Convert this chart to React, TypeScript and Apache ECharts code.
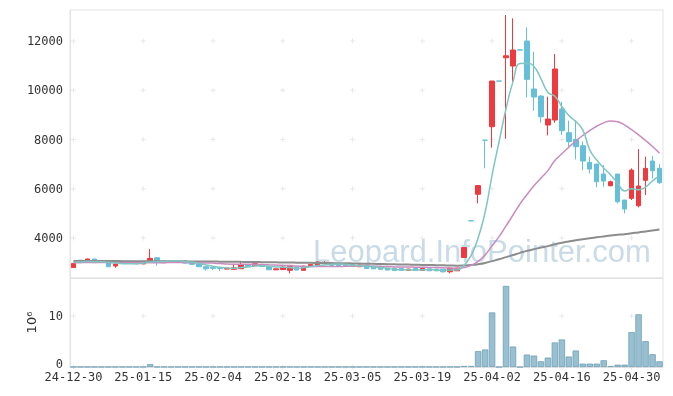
import React, { useEffect, useRef } from 'react';
import * as echarts from 'echarts';

const dates = [
  '2024-12-30', '2025-01-02', '2025-01-03', '2025-01-06', '2025-01-07', '2025-01-08', '2025-01-09', '2025-01-10', '2025-01-13', '2025-01-14',
  '2025-01-15', '2025-01-16', '2025-01-17', '2025-01-20', '2025-01-21', '2025-01-22', '2025-01-23', '2025-01-24', '2025-01-31', '2025-02-03',
  '2025-02-04', '2025-02-05', '2025-02-06', '2025-02-07', '2025-02-10', '2025-02-11', '2025-02-12', '2025-02-13', '2025-02-14', '2025-02-17',
  '2025-02-18', '2025-02-19', '2025-02-20', '2025-02-21', '2025-02-24', '2025-02-25', '2025-02-26', '2025-02-27', '2025-02-28', '2025-03-04',
  '2025-03-05', '2025-03-06', '2025-03-07', '2025-03-10', '2025-03-11', '2025-03-12', '2025-03-13', '2025-03-14', '2025-03-17', '2025-03-18',
  '2025-03-19', '2025-03-20', '2025-03-21', '2025-03-24', '2025-03-25', '2025-03-26', '2025-03-27', '2025-03-28', '2025-03-31', '2025-04-01',
  '2025-04-02', '2025-04-03', '2025-04-04', '2025-04-07', '2025-04-08', '2025-04-09', '2025-04-10', '2025-04-11', '2025-04-14', '2025-04-15',
  '2025-04-16', '2025-04-17', '2025-04-18', '2025-04-21', '2025-04-22', '2025-04-23', '2025-04-24', '2025-04-25', '2025-04-28', '2025-04-29',
  '2025-04-30', '2025-05-02', '2025-05-07', '2025-05-08', '2025-05-09',
];

// [open, close, low, high]
const ohlc = [
  [2800, 2970, 2790, 2985], [3100, 3040, 3020, 3115], [3040, 3150, 3030, 3165], [3150, 3000, 2990, 3155], [3050, 3040, 3020, 3070],
  [3000, 2835, 2825, 3005], [2865, 2945, 2794, 2950], [3010, 2980, 2970, 3020], [2970, 3000, 2960, 3010], [3010, 2990, 2980, 3020],
  [2950, 3010, 2940, 3020], [3038, 3176, 3030, 3553], [3200, 3038, 2875, 3210], [3000, 3066, 2990, 3075], [3060, 3050, 3040, 3070],
  [3060, 3040, 3030, 3070], [3066, 2985, 2975, 3075], [3013, 2932, 2920, 3020], [2973, 2835, 2825, 2980], [2835, 2753, 2672, 2840],
  [2800, 2770, 2700, 2810], [2790, 2760, 2660, 2800], [2740, 2780, 2730, 2790], [2730, 2790, 2720, 2960], [2753, 2932, 2745, 3040],
  [2905, 2850, 2840, 2915], [2880, 2960, 2870, 3040], [2905, 2845, 2835, 2915], [2835, 2712, 2700, 2840], [2710, 2750, 2700, 2760],
  [2720, 2820, 2710, 2900], [2690, 2890, 2567, 2900], [2820, 2700, 2690, 2830], [2690, 2860, 2680, 2870], [2850, 2930, 2840, 2940],
  [2875, 3025, 2865, 3060], [2960, 3000, 2950, 3060], [2970, 2890, 2880, 2980], [2960, 2875, 2865, 2970], [2940, 2880, 2870, 2950],
  [2930, 2850, 2840, 2940], [2835, 2905, 2825, 2915], [2890, 2770, 2760, 2900], [2860, 2750, 2740, 2870], [2820, 2730, 2720, 2830],
  [2780, 2700, 2690, 2790], [2770, 2680, 2670, 2780], [2770, 2690, 2680, 2780], [2690, 2740, 2680, 2750], [2770, 2680, 2670, 2780],
  [2690, 2770, 2680, 2780], [2750, 2670, 2660, 2760], [2740, 2670, 2660, 2750], [2730, 2630, 2600, 2740], [2630, 2780, 2570, 2790],
  [2670, 2780, 2660, 2790], [3210, 3614, 3200, 3614], [4700, 4698, 4698, 4700], [5780, 6130, 5410, 6130], [7975, 7969, 6830, 7975],
  [8520, 10376, 7667, 10376], [10376, 10370, 10370, 10376], [11320, 11400, 8030, 13055], [10985, 11634, 10348, 12922], [11640, 11634, 11634, 11640],
  [12000, 10444, 9713, 12556], [10052, 9727, 9170, 11566], [9764, 8926, 8683, 9800], [8589, 8833, 8170, 9738], [8792, 10863, 8683, 11472],
  [9239, 8357, 8183, 9535], [8276, 7911, 7708, 8764], [8008, 7708, 7196, 8792], [7748, 7127, 6761, 7911], [7074, 6802, 6626, 7302],
  [7005, 6286, 6059, 7010], [6599, 6315, 6084, 6964], [6124, 6286, 6100, 6330], [6599, 5474, 5409, 6600], [5543, 5178, 5003, 5550],
  [5612, 6761, 5543, 6830], [5312, 6112, 5245, 7614], [6343, 6830, 5746, 7302], [7127, 6733, 6424, 7330], [6830, 6246, 6200, 7000],
];

// volume, millions
const volumes = [
  0.03, 0.03, 0.03, 0.03, 0.03, 0.03, 0.03, 0.03, 0.03, 0.03,
  0.03, 0.55, 0.03, 0.03, 0.03, 0.03, 0.03, 0.03, 0.03, 0.03,
  0.03, 0.03, 0.03, 0.03, 0.03, 0.03, 0.03, 0.03, 0.03, 0.03,
  0.03, 0.03, 0.03, 0.03, 0.03, 0.03, 0.03, 0.03, 0.03, 0.03,
  0.03, 0.03, 0.03, 0.03, 0.03, 0.03, 0.03, 0.03, 0.03, 0.03,
  0.03, 0.03, 0.03, 0.03, 0.03, 0.03, 0.2, 0.2, 3.1, 3.43,
  10.7, 0, 15.9, 4.02, 0, 2.44, 2.24, 1.12, 1.85, 4.81,
  5.4, 2.05, 3.23, 0.66, 0.66, 0.66, 1.32, 0.2, 0.46, 0.46,
  6.84, 10.33, 5.07, 2.5, 1.12,
];

const ma5 = [
  3020, 3030, 3050, 3040, 3040, 3013, 2994, 2960, 2960, 2950,
  2985, 3031, 3043, 3056, 3068, 3074, 3036, 3015, 2968, 2909,
  2855, 2810, 2780, 2771, 2806, 2822, 2862, 2875, 2860, 2823,
  2817, 2803, 2774, 2804, 2840, 2881, 2903, 2941, 2944, 2934,
  2899, 2880, 2856, 2831, 2801, 2771, 2726, 2710, 2708, 2698,
  2712, 2710, 2706, 2684, 2704, 2706, 2895, 3300, 4000, 5038,
  6557, 7909, 9249, 10350, 11083, 11096, 10968, 10473, 9913, 9759,
  9341, 8978, 8734, 8393, 7581, 7167, 6848, 6563, 6233, 5908,
  6003, 5962, 6071, 6323, 6536,
];

const ma20 = [
  3000, 3000, 3005, 3005, 3005, 3000, 3000, 3000, 2995, 2995,
  2995, 3000, 3000, 3000, 3005, 3005, 3000, 2995, 2990, 2992,
  2982, 2968, 2949, 2939, 2933, 2934, 2935, 2928, 2914, 2902,
  2892, 2878, 2861, 2851, 2845, 2844, 2845, 2843, 2845, 2851,
  2855, 2862, 2862, 2860, 2850, 2842, 2828, 2820, 2822, 2818,
  2816, 2805, 2803, 2792, 2784, 2772, 2803, 2893, 3056, 3310,
  3687, 4060, 4491, 4936, 5381, 5768, 6120, 6432, 6737, 7146,
  7425, 7687, 7939, 8164, 8365, 8540, 8676, 8755, 8722, 8583,
  8402, 8189, 7960, 7715, 7446,
];

const ma100 = [
  3070, 3070, 3068, 3067, 3066, 3065, 3064, 3063, 3062, 3061,
  3060, 3059, 3058, 3057, 3056, 3055, 3053, 3051, 3049, 3047,
  3045, 3042, 3039, 3036, 3033, 3030, 3026, 3022, 3018, 3014,
  3010, 3006, 3002, 2998, 2994, 2990, 2986, 2982, 2978, 2974,
  2970, 2964, 2958, 2952, 2946, 2940, 2934, 2928, 2922, 2916,
  2910, 2904, 2898, 2892, 2886, 2880, 2887, 2906, 2938, 2989,
  3064, 3139, 3224, 3312, 3399, 3480, 3550, 3612, 3672, 3752,
  3808, 3860, 3910, 3955, 3995, 4030, 4066, 4102, 4130, 4155,
  4195, 4230, 4270, 4310, 4345,
];

const priceTicks = [4000, 6000, 8000, 10000, 12000];
const volumeTicks = [0, 10];
const labelStep = 10;

const UP = '#ee3a3e';
const DOWN = '#66bfd9';
const BORDER = '#e3e3e3';
const FONT = 'DejaVu Sans Mono';
const CROSS = 'path://M0,2h5v1h-5zM2,0h1v5h-1z';

export default function App() {
  const ref = useRef<HTMLDivElement>(null);
  useEffect(() => {
    if (!ref.current) return;
    const chart = echarts.init(ref.current, null, { renderer: 'svg' });
    const labels = dates.map((d) => d.slice(2));
    const tickCats = dates.map((_, i) => i).filter((i) => i % labelStep === 0);
    const crossMain = tickCats.flatMap((i) => priceTicks.map((v) => [i, v]));
    const crossVol = tickCats.flatMap((i) => volumeTicks.map((v) => [i, v]));

    chart.setOption({
      animation: false,
      textStyle: { fontFamily: FONT },
      graphic: [
        {
          type: 'text',
          left: 313,
          top: 236,
          z: 0,
          silent: true,
          style: {
            text: 'Leopard.InfoPointer.com',
            font: '31px "Liberation Sans"',
            fill: 'rgba(120,165,195,0.4)',
          },
        },
      ],
      grid: [
        { left: 70, right: 10, top: 10, height: 268, show: true, borderColor: BORDER, borderWidth: 1 },
        { left: 70, right: 10, top: 278, height: 89, show: true, borderColor: BORDER, borderWidth: 1 },
      ],
      xAxis: [
        {
          type: 'category',
          gridIndex: 0,
          data: labels,
          boundaryGap: true,
          axisLine: { lineStyle: { color: BORDER } },
          axisTick: { show: false },
          axisLabel: { show: false },
          splitLine: { show: false },
        },
        {
          type: 'category',
          gridIndex: 1,
          data: labels,
          boundaryGap: true,
          axisLine: { lineStyle: { color: BORDER } },
          axisTick: { show: false },
          axisLabel: { interval: labelStep - 1, color: '#333', fontSize: 12, margin: 4, fontFamily: FONT },
          splitLine: { show: false },
        },
      ],
      yAxis: [
        {
          type: 'value',
          gridIndex: 0,
          min: 2378,
          max: 13259,
          axisLine: { show: true, lineStyle: { color: BORDER } },
          axisTick: { show: false },
          splitLine: { show: false },
          axisLabel: {
            color: '#333',
            fontSize: 12,
            margin: 7,
            fontFamily: FONT,
            showMinLabel: false,
            showMaxLabel: false,
            formatter: (v: number) => String(v),
          },
        },
        {
          type: 'value',
          gridIndex: 1,
          min: 0,
          max: 17.45,
          interval: 10,
          name: '10⁶',
          nameLocation: 'middle',
          nameGap: 31,
          nameRotate: 90,
          nameTextStyle: { color: '#333', fontSize: 13, fontFamily: 'DejaVu Sans' },
          axisLine: { show: true, lineStyle: { color: BORDER } },
          axisTick: { show: false },
          splitLine: { show: false },
          axisLabel: {
            color: '#333',
            fontSize: 12,
            margin: 7,
            fontFamily: FONT,
            showMaxLabel: false,
            formatter: (v: number) => (v === 0 ? '{z|0}' : String(v)),
            rich: { z: { color: '#333', fontSize: 12, fontFamily: FONT, padding: [0, 0, 6, 0] } },
          },
        },
      ],
      series: [
        {
          type: 'scatter',
          xAxisIndex: 0,
          yAxisIndex: 0,
          data: crossMain,
          symbol: CROSS,
          symbolSize: 5,
          itemStyle: { color: '#e2e2e2' },
          silent: true,
          z: 1,
        },
        {
          type: 'scatter',
          xAxisIndex: 1,
          yAxisIndex: 1,
          data: crossVol,
          symbol: CROSS,
          symbolSize: 5,
          itemStyle: { color: '#e2e2e2' },
          silent: true,
          z: 1,
        },
        {
          type: 'candlestick',
          xAxisIndex: 0,
          yAxisIndex: 0,
          data: ohlc,
          barWidth: 5,
          itemStyle: { color: UP, color0: DOWN, borderColor: UP, borderColor0: DOWN, borderWidth: 1 },
          z: 3,
        },
        {
          type: 'line',
          xAxisIndex: 0,
          yAxisIndex: 0,
          data: ma100,
          smooth: true,
          showSymbol: false,
          lineStyle: { color: '#8c8c8c', width: 2 },
          z: 4,
        },
        {
          type: 'line',
          xAxisIndex: 0,
          yAxisIndex: 0,
          data: ma20,
          smooth: true,
          showSymbol: false,
          lineStyle: { color: '#c98bc0', width: 1.5 },
          z: 4,
        },
        {
          type: 'line',
          xAxisIndex: 0,
          yAxisIndex: 0,
          data: ma5,
          smooth: true,
          showSymbol: false,
          lineStyle: { color: '#7fc6c2', width: 1.5 },
          z: 4,
        },
        {
          type: 'bar',
          xAxisIndex: 1,
          yAxisIndex: 1,
          data: volumes,
          barWidth: '92%',
          itemStyle: { color: 'rgba(110,165,190,0.7)', borderColor: '#6f9fb5', borderWidth: 0.8 },
          z: 3,
        },
      ],
    });
    return () => chart.dispose();
  }, []);
  return <div ref={ref} style={{ position: 'fixed', left: 0, top: 0, width: 673, height: 396 }} />;
}
